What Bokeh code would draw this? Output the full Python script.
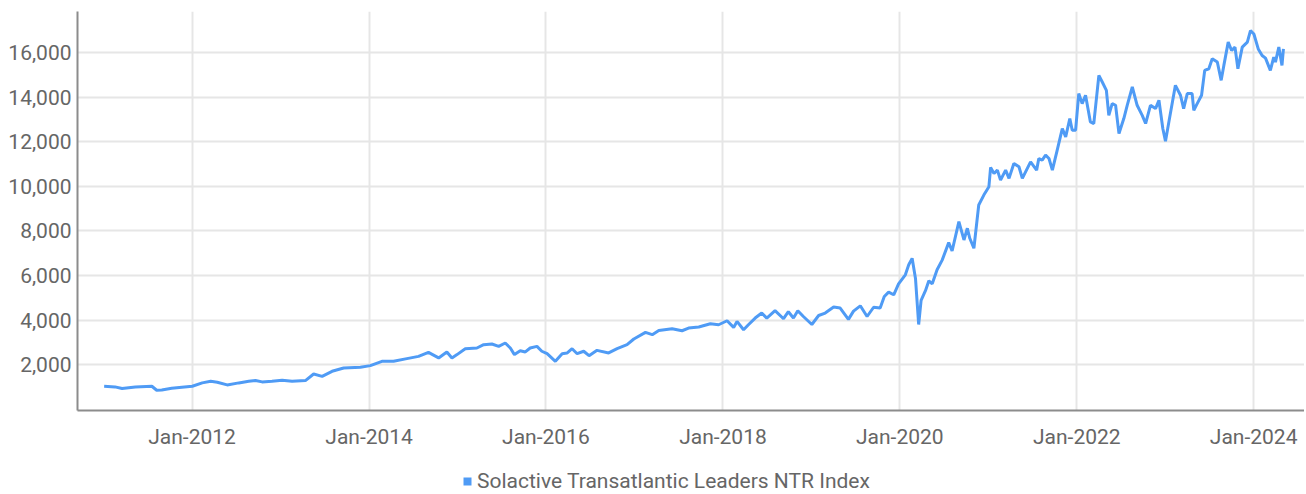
import pandas as pd
from bokeh.plotting import figure
from bokeh.layouts import column
from bokeh.models import (ColumnDataSource, Range1d, FixedTicker, NumeralTickFormatter,
                          DatetimeTickFormatter, Legend, LegendItem)
from bokeh.embed import file_html
from bokeh.resources import INLINE

series_name = "Solactive Transatlantic Leaders NTR Index"

dates = [
    "2011-01-03", "2011-02-17", "2011-03-18", "2011-05-12", "2011-07-19", "2011-08-08",
    "2011-08-29", "2011-10-09", "2011-11-20", "2012-01-02", "2012-02-12", "2012-03-18",
    "2012-04-14", "2012-05-25", "2012-07-12", "2012-08-22", "2012-09-19", "2012-10-16",
    "2012-11-26", "2013-01-07", "2013-02-17", "2013-04-13", "2013-05-17", "2013-06-21",
    "2013-08-01", "2013-09-18", "2013-11-26", "2014-01-06", "2014-02-23", "2014-04-12",
    "2014-06-06", "2014-07-24", "2014-09-03", "2014-10-15", "2014-11-18", "2014-12-09",
    "2014-12-30", "2015-02-02", "2015-03-22", "2015-04-19", "2015-05-23", "2015-06-20",
    "2015-07-17", "2015-08-07", "2015-08-24", "2015-09-17", "2015-10-08", "2015-10-28",
    "2015-11-25", "2015-12-15", "2016-01-06", "2016-02-09", "2016-03-08", "2016-03-28",
    "2016-04-18", "2016-05-09", "2016-06-05", "2016-06-27", "2016-07-30", "2016-09-16",
    "2016-10-21", "2016-12-01", "2016-12-29", "2017-02-15", "2017-03-15", "2017-04-11",
    "2017-06-05", "2017-07-16", "2017-08-12", "2017-09-23", "2017-11-10", "2017-12-14",
    "2018-01-18", "2018-02-14", "2018-02-28", "2018-03-27", "2018-04-16", "2018-05-14",
    "2018-06-10", "2018-07-01", "2018-08-04", "2018-09-08", "2018-09-28", "2018-10-19",
    "2018-11-06", "2018-11-29", "2019-01-03", "2019-01-31", "2019-02-27", "2019-04-03",
    "2019-04-30", "2019-06-03", "2019-06-24", "2019-07-22", "2019-08-19", "2019-09-15",
    "2019-10-12", "2019-10-29", "2019-11-16", "2019-12-07", "2019-12-27", "2020-01-24",
    "2020-02-07", "2020-02-21", "2020-03-06", "2020-03-19", "2020-03-29", "2020-04-16",
    "2020-04-30", "2020-05-14", "2020-06-03", "2020-06-24", "2020-07-21", "2020-08-04",
    "2020-09-01", "2020-09-22", "2020-10-06", "2020-10-16", "2020-11-02", "2020-11-22",
    "2020-12-13", "2021-01-03", "2021-01-10", "2021-01-24", "2021-02-07", "2021-02-20",
    "2021-03-13", "2021-03-27", "2021-04-16", "2021-05-07", "2021-05-21", "2021-06-24",
    "2021-07-19", "2021-07-28", "2021-08-11", "2021-08-25", "2021-09-08", "2021-09-22",
    "2021-10-12", "2021-11-02", "2021-11-16", "2021-12-03", "2021-12-13", "2021-12-27",
    "2022-01-09", "2022-01-23", "2022-02-06", "2022-02-26", "2022-03-12", "2022-04-02",
    "2022-04-16", "2022-05-03", "2022-05-13", "2022-05-27", "2022-06-10", "2022-06-24",
    "2022-07-14", "2022-07-28", "2022-08-18", "2022-09-07", "2022-09-28", "2022-10-12",
    "2022-11-01", "2022-11-22", "2022-12-06", "2022-12-22", "2023-01-02", "2023-01-16",
    "2023-02-12", "2023-03-05", "2023-03-18", "2023-04-02", "2023-04-22", "2023-04-29",
    "2023-05-13", "2023-05-31", "2023-06-13", "2023-06-30", "2023-07-14", "2023-08-04",
    "2023-08-20", "2023-08-31", "2023-09-18", "2023-10-02", "2023-10-16", "2023-10-28",
    "2023-11-15", "2023-12-06", "2023-12-19", "2024-01-02", "2024-01-20", "2024-02-05",
    "2024-02-19", "2024-03-10", "2024-03-24", "2024-03-31", "2024-04-14", "2024-04-27",
    "2024-05-03",
]

values = [
    1030, 1000, 925, 1000, 1030, 850,
    860, 940, 985, 1030, 1180, 1250,
    1210, 1090, 1180, 1250, 1285, 1225,
    1250, 1300, 1250, 1285, 1580, 1475,
    1700, 1850, 1880, 1955, 2150, 2150,
    2270, 2370, 2550, 2300, 2570, 2300,
    2450, 2715, 2745, 2895, 2925, 2820,
    2970, 2745, 2450, 2625, 2570, 2745,
    2820, 2600, 2490, 2150, 2490, 2520,
    2715, 2490, 2600, 2400, 2640, 2525,
    2715, 2895, 3150, 3445, 3345, 3535,
    3610, 3520, 3640, 3690, 3835, 3790,
    3970, 3670, 3940, 3565, 3790, 4090,
    4315, 4090, 4420, 4060, 4375, 4090,
    4420, 4160, 3800, 4205, 4315, 4585,
    4540, 4030, 4400, 4640, 4160, 4575,
    4540, 5060, 5255, 5135, 5620, 6030,
    6480, 6770, 5850, 3800, 4880, 5320,
    5760, 5625, 6255, 6690, 7475, 7100,
    8415, 7595, 8120, 7670, 7225, 9165,
    9610, 9985, 10850, 10580, 10730, 10280,
    10730, 10360, 11030, 10880, 10360, 11100,
    10730, 11250, 11180, 11400, 11250, 10730,
    11625, 12595, 12220, 13045, 12520, 12520,
    14165, 13715, 14090, 12890, 12820, 14985,
    14685, 14310, 13190, 13715, 13640, 12370,
    13045, 13640, 14460, 13640, 13190, 12820,
    13640, 13490, 13865, 12595, 12030, 12890,
    14535, 14090, 13490, 14165, 14165, 13415,
    13715, 14090, 15205, 15280, 15730, 15580,
    14760, 15430, 16475, 16100, 16250, 15280,
    16250, 16475, 16990, 16840, 16170, 15875,
    15755, 15205, 15800, 15580, 16250, 15430,
    16170,
]

x_tick_dates = ["2012-01-01", "2014-01-01", "2016-01-01", "2018-01-01",
                "2020-01-01", "2022-01-01", "2024-01-01"]
y_ticks = [2000, 4000, 6000, 8000, 10000, 12000, 14000, 16000]

LINE = "#4F9BF5"
TXT = "#666666"
FONT = "Roboto"

df = pd.DataFrame({"date": pd.to_datetime(dates), "value": values})
src = ColumnDataSource(df)

p = figure(width=1304, height=451, x_axis_type="datetime",
           x_range=Range1d(pd.Timestamp("2010-09-15"), pd.Timestamp("2024-07-29")),
           y_range=Range1d(-59, 17849),
           output_backend="svg", toolbar_location=None,
           min_border_left=77, min_border_right=0, min_border_top=11, min_border_bottom=40)

p.outline_line_color = None
p.background_fill_color = "white"

p.line("date", "value", source=src, line_color=LINE, line_width=3)

# x axis
p.xaxis.ticker = FixedTicker(ticks=[pd.Timestamp(d).timestamp() * 1000 for d in x_tick_dates])
fmt = "%b-%Y"
p.xaxis.formatter = DatetimeTickFormatter(years=fmt, months=fmt, days=fmt, hours=fmt,
                                          minutes=fmt, seconds=fmt, milliseconds=fmt,
                                          microseconds=fmt, hourmin=fmt, minsec=fmt)
# y axis
p.yaxis.ticker = FixedTicker(ticks=y_ticks)
p.yaxis.formatter = NumeralTickFormatter(format="0,0")

for ax in (p.xaxis, p.yaxis):
    ax.axis_line_color = "#8c8c8c"
    ax.axis_line_width = 2
    ax.major_tick_line_color = None
    ax.minor_tick_line_color = None
    ax.major_tick_out = 0
    ax.major_tick_in = 0
    ax.major_label_text_font = FONT
    ax.major_label_text_font_size = "21px"
    ax.major_label_text_color = TXT
p.xaxis.major_label_standoff = 14
p.yaxis.major_label_standoff = 6

for g in (p.xgrid, p.ygrid):
    g.grid_line_color = "#e6e6e6"
    g.grid_line_width = 2

# legend strip underneath the chart (its frame is aligned with the chart's frame)
lg = figure(width=1304, height=43, x_range=Range1d(0, 1), y_range=Range1d(0, 1),
            output_backend="svg", toolbar_location=None,
            min_border_left=0, min_border_right=0, min_border_top=0, min_border_bottom=0)
lg.axis.visible = False
lg.grid.visible = False
lg.outline_line_color = None
proxy = lg.quad(left=[0], right=[0], top=[0], bottom=[0], fill_color=LINE,
                line_color=None)
legend = Legend(items=[LegendItem(label=series_name, renderers=[proxy])],
                location=(385, 1), orientation="horizontal",
                glyph_width=10, glyph_height=10, label_standoff=5,
                padding=0, margin=0, spacing=0, border_line_color=None,
                background_fill_alpha=0, label_text_font=FONT,
                label_text_font_size="21px", label_text_color=TXT)
lg.add_layout(legend, "center")

layout = column(p, lg, spacing=0)
open("out.html", "w").write(file_html(layout, INLINE))
